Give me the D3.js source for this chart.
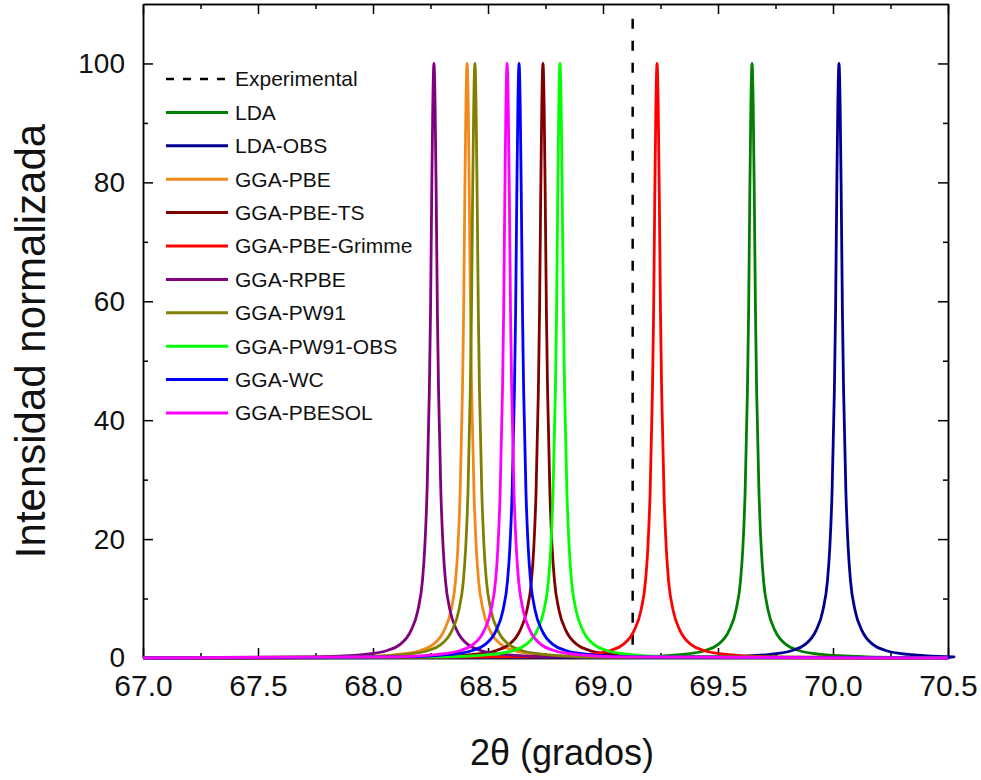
<!DOCTYPE html>
<html>
<head>
<meta charset="utf-8">
<script src="https://cdn.jsdelivr.net/npm/d3@7"></script>
<style>
  body { margin: 0; background: #fff; }
  svg { display: block; font-family: "Liberation Sans", Arial, sans-serif; }
</style>
</head>
<body>
<svg id="chart" width="981" height="780"></svg>
<script>
// series names, colours and peak positions (2theta, degrees)
var seriesNames = ["LDA", "LDA-OBS", "GGA-PBE", "GGA-PBE-TS", "GGA-PBE-Grimme",
                   "GGA-RPBE", "GGA-PW91", "GGA-PW91-OBS", "GGA-WC", "GGA-PBESOL"];
var seriesColors = ["#008000", "#000090", "#f28a1a", "#800000", "#ff0000",
                    "#800080", "#808000", "#00ff00", "#0000ff", "#ff00ff"];
var peakCenters = [69.648, 70.026, 68.409, 68.739, 69.235,
                   68.265, 68.443, 68.813, 68.635, 68.583];
var experimental = 69.129;

// shape of a single peak (offset from centre, intensity)
var profileOffset = [-0.5, -0.3, -0.2, -0.15, -0.1, -0.07, -0.05, -0.04, -0.03, -0.02, -0.015, -0.01, -0.005,
                     0, 0.005, 0.01, 0.015, 0.02, 0.03, 0.04, 0.05, 0.07, 0.1, 0.15, 0.2, 0.3, 0.5];
var profileIntensity = [0.2, 0.6, 1.3, 2.2, 4.6, 8.0, 13, 18.5, 28, 45, 58, 77, 93,
                        100, 93, 77, 58, 45, 28, 18.5, 13, 8.0, 4.6, 2.2, 1.3, 0.6, 0.2];

var xTicks = [67.0, 67.5, 68.0, 68.5, 69.0, 69.5, 70.0, 70.5];
var xMinor = [67.25, 67.75, 68.25, 68.75, 69.25, 69.75, 70.25];
var yTicks = [0, 20, 40, 60, 80, 100];
var yMinor = [10, 30, 50, 70, 90];

var svg = d3.select("#chart");
var plotL = 143, plotR = 948, plotT = 4, plotB = 658;

var x = d3.scaleLinear().domain([67, 70.5]).range([plotL, plotR]);
var y = d3.scaleLinear().domain([0, 110]).range([plotB, plotT]);

// frame + ticks (all inward)
function styleAxis(g) {
    g.select(".domain").attr("stroke", "#000").attr("stroke-width", 1.5);
    g.selectAll(".tick line").attr("stroke", "#000").attr("stroke-width", 1.5);
}

svg.append("g").attr("transform", "translate(0," + plotB + ")")
    .call(d3.axisBottom(x).tickValues(xMinor).tickSize(-5).tickSizeOuter(0).tickFormat(""))
    .call(styleAxis);
svg.append("g").attr("transform", "translate(0," + plotT + ")")
    .call(d3.axisTop(x).tickValues(xMinor).tickSize(-5).tickSizeOuter(0).tickFormat(""))
    .call(styleAxis);
svg.append("g").attr("transform", "translate(0," + plotT + ")")
    .call(d3.axisTop(x).tickValues(xTicks).tickSize(-10).tickSizeOuter(0).tickFormat(""))
    .call(styleAxis);
svg.append("g").attr("transform", "translate(" + plotL + ",0)")
    .call(d3.axisLeft(y).tickValues(yMinor).tickSize(-5).tickSizeOuter(0).tickFormat(""))
    .call(styleAxis);
svg.append("g").attr("transform", "translate(" + plotR + ",0)")
    .call(d3.axisRight(y).tickValues(yMinor).tickSize(-5).tickSizeOuter(0).tickFormat(""))
    .call(styleAxis);
svg.append("g").attr("transform", "translate(" + plotR + ",0)")
    .call(d3.axisRight(y).tickValues(yTicks).tickSize(-10).tickSizeOuter(0).tickFormat(""))
    .call(styleAxis);

var xAxis = svg.append("g").attr("transform", "translate(0," + plotB + ")")
    .call(d3.axisBottom(x).tickValues(xTicks).tickSize(-10).tickSizeOuter(0)
        .tickPadding(17).tickFormat(d3.format(".1f")))
    .call(styleAxis);
xAxis.selectAll("text").attr("font-size", 30).attr("fill", "#111")
    .attr("font-family", "Liberation Sans, Arial, sans-serif");

var yAxis = svg.append("g").attr("transform", "translate(" + plotL + ",0)")
    .call(d3.axisLeft(y).tickValues(yTicks).tickSize(-10).tickSizeOuter(0).tickPadding(18))
    .call(styleAxis);
yAxis.selectAll("text").attr("font-size", 28).attr("fill", "#111")
    .attr("font-family", "Liberation Sans, Arial, sans-serif");

// experimental position
svg.append("line")
    .attr("x1", x(experimental)).attr("x2", x(experimental))
    .attr("y1", y(107.5)).attr("y2", y(0))
    .attr("stroke", "#000").attr("stroke-width", 2.5)
    .attr("stroke-dasharray", "10,12");

// peaks
var line = d3.line()
    .x(function(d) { return x(d[0]); })
    .y(function(d) { return y(d[1]); })
    .curve(d3.curveMonotoneX);

var peaks = svg.append("g").attr("fill", "none").attr("stroke-width", 2.8)
    .attr("stroke-linejoin", "round");

seriesNames.forEach(function(name, i) {
    var pts = [[67.0, 0]];
    profileOffset.forEach(function(o, j) {
        pts.push([peakCenters[i] + o, profileIntensity[j]]);
    });
    pts.push([70.5, 0]);
    peaks.append("path")
        .datum(pts)
        .attr("stroke", seriesColors[i])
        .attr("d", line);
});

// legend
var legend = svg.append("g").attr("font-size", 21).attr("fill", "#111");
var rowY = function(i) { return 79 + i * 33.4; };

legend.append("line")
    .attr("x1", 166).attr("x2", 228).attr("y1", rowY(0)).attr("y2", rowY(0))
    .attr("stroke", "#000").attr("stroke-width", 2.5).attr("stroke-dasharray", "8,9");
legend.append("text").attr("x", 235).attr("y", rowY(0)).attr("dy", "0.35em").text("Experimental");

seriesNames.forEach(function(name, i) {
    legend.append("line")
        .attr("x1", 166).attr("x2", 228).attr("y1", rowY(i + 1)).attr("y2", rowY(i + 1))
        .attr("stroke", seriesColors[i]).attr("stroke-width", 3);
    legend.append("text").attr("x", 235).attr("y", rowY(i + 1)).attr("dy", "0.35em").text(name);
});

// axis titles
svg.append("text")
    .attr("x", 562).attr("y", 765)
    .attr("text-anchor", "middle").attr("font-size", 36).attr("fill", "#111")
    .text("2θ (grados)");

svg.append("text")
    .attr("transform", "translate(45,341) rotate(-90)")
    .attr("text-anchor", "middle").attr("font-size", 42).attr("fill", "#111")
    .text("Intensidad normalizada");
</script>
</body>
</html>
